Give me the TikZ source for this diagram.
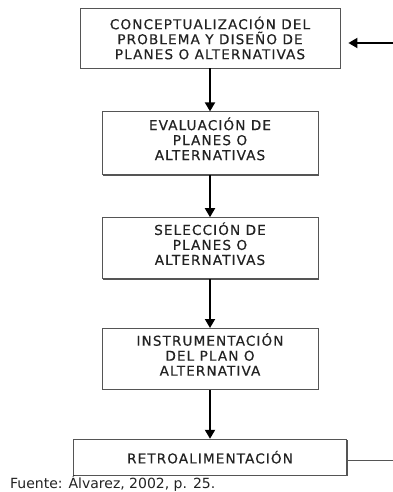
\documentclass[tikz,border=0pt]{standalone}
\usepackage{fontspec}
\setmainfont{DejaVu Sans}
\newfontfamily\boxfont[LetterSpace=8, FakeBold=0.4]{DejaVu Sans}
\usetikzlibrary{arrows.meta, positioning, shadows}
\definecolor{boxEdge}{HTML}{555555}
\definecolor{boxText}{HTML}{222222}

\begin{document}
\begin{tikzpicture}[x=1pt, y=1pt,
  stage/.style={draw=boxEdge, line width=0.8pt, fill=white, minimum width=216pt,
    minimum height=62pt, align=center, text=boxText, inner sep=0pt,
    font=\boxfont\fontsize{13.6}{15}\selectfont,
    drop shadow={shadow xshift=1pt, shadow yshift=-1pt, fill=boxEdge, opacity=1}},
  arr/.style={-{Triangle[length=9pt, width=10pt]}, line width=1.8pt, black},
  back/.style={line width=0.9pt, boxEdge}
]
\useasboundingbox (0,0) rectangle (393,-492);
\node[stage, minimum width=260pt, minimum height=60pt] (concep) at (210,-38)
  {CONCEPTUALIZACIÓN DEL\\PROBLEMA Y DISEÑO DE\\PLANES O ALTERNATIVAS};
\node[stage, below=43pt of concep, minimum height=63pt] (evalua)
  {EVALUACIÓN DE\\PLANES O\\ALTERNATIVAS\\[-6pt]};
\node[stage, below=42pt of evalua, minimum height=61pt] (selecc)
  {SELECCIÓN DE\\PLANES O\\ALTERNATIVAS\\[-6pt]};
\node[stage, below=49pt of selecc, minimum height=61pt] (instru)
  {INSTRUMENTACIÓN\\DEL PLAN O\\ALTERNATIVA\\[-6pt]};
\node[stage, below=49pt of instru, minimum width=273pt, minimum height=36pt] (retro)
  {RETROALIMENTACIÓN};
\node[anchor=base west, inner sep=0pt, text=boxText, font=\fontsize{14}{16}\selectfont]
  (fuente) at (10,-488) {Fuente: Álvarez, 2002, p. 25.};
% feedback stubs (loop closes outside the crop)
\coordinate (retroOut) at (393,-460);
\coordinate (concepIn) at (393,-43);
\draw[arr] (concep) -- (evalua);
\draw[arr] (evalua) -- (selecc);
\draw[arr] (selecc) -- (instru);
\draw[arr] (instru) -- (retro);
\draw[back] (retro.east |- retroOut) -- (retroOut);
\draw[arr] (concepIn) -- ([xshift=8pt]concep.east |- concepIn);
\end{tikzpicture}
\end{document}
